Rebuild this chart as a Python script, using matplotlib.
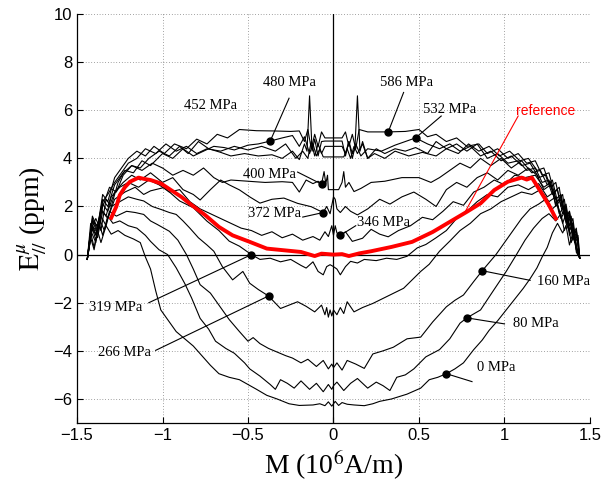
import matplotlib.pyplot as plt

plt.rcParams['mathtext.fontset'] = 'stix'

# ── Curves: (M [10^6 A/m], E [ppm]) ─────────────────────────
pts_0 = [(-1.44, -0.2), (-1.42, 0.7), (-1.40, 0.2), (-1.38, 1.0), (-1.36, 0.5), (-1.33, 1.2), (-1.30, 0.85),
         (-1.26, 1.0), (-1.22, 0.8), (-1.17, 0.65), (-1.13, 0.5), (-1.10, -0.1), (-1.07, -0.6), (-1.04, -1.5),
         (-1.01, -2.3), (-0.96, -2.8), (-0.92, -3.2), (-0.87, -3.5), (-0.82, -3.8), (-0.77, -4.2), (-0.72, -4.6),
         (-0.67, -4.95), (-0.61, -5.1), (-0.55, -5.2), (-0.50, -5.4), (-0.45, -5.6), (-0.39, -5.85), (-0.33, -6.0),
         (-0.26, -6.2), (-0.20, -6.27), (-0.12, -6.25), (-0.08, -6.2), (-0.05, -6.28), (-0.03, -6.12), (-0.01, -6.3),
         (0.0, -6.2), (0.01, -6.1), (0.03, -6.27), (0.05, -6.15), (0.08, -6.22), (0.12, -6.25), (0.18, -6.28),
         (0.23, -6.2), (0.27, -6.1), (0.34, -6.0), (0.43, -5.8), (0.51, -5.55), (0.56, -5.2), (0.61, -5.1),
         (0.66, -4.95), (0.71, -4.75), (0.76, -4.5), (0.82, -3.95), (0.87, -3.55), (0.91, -3.15), (0.96, -2.75),
         (1.01, -2.3), (1.06, -1.85), (1.11, -1.4), (1.15, -1.0), (1.19, -0.55), (1.22, -0.1), (1.25, 0.3),
         (1.28, 0.9), (1.31, 1.3), (1.34, 0.9), (1.36, 1.2), (1.38, 0.4), (1.40, 0.9), (1.42, 0.2), (1.44, -0.15)]

pts_80 = [(-1.44, -0.2), (-1.42, 0.9), (-1.40, 0.3), (-1.37, 1.3), (-1.35, 0.8), (-1.32, 1.6), (-1.29, 1.3),
          (-1.25, 1.4), (-1.20, 1.2), (-1.15, 1.1), (-1.10, 0.8), (-1.07, 0.55), (-1.02, 0.2), (-0.97, 0.0),
          (-0.92, -0.55), (-0.87, -1.2), (-0.83, -1.8), (-0.78, -2.65), (-0.73, -3.1), (-0.69, -3.6), (-0.63, -3.9),
          (-0.58, -4.1), (-0.52, -4.5), (-0.49, -4.75), (-0.43, -5.05), (-0.37, -5.4), (-0.34, -5.6), (-0.31, -5.2),
          (-0.27, -5.35), (-0.23, -5.55), (-0.19, -5.25), (-0.14, -5.6), (-0.10, -5.35), (-0.06, -5.7),
          (-0.03, -5.4), (-0.01, -5.6), (0.0, -5.45), (0.02, -5.3), (0.06, -5.65), (0.10, -5.35), (0.14, -5.15),
          (0.20, -5.55), (0.25, -5.3), (0.29, -5.45), (0.33, -5.65), (0.37, -5.1), (0.42, -5.0), (0.47, -4.75),
          (0.54, -4.25), (0.62, -3.95), (0.68, -3.5), (0.74, -2.85), (0.78, -2.63), (0.86, -2.3), (0.93, -1.55),
          (1.01, -0.7), (1.07, 0.0), (1.12, 0.6), (1.17, 1.1), (1.22, 1.5), (1.26, 1.7), (1.30, 1.4), (1.33, 1.7),
          (1.35, 1.0), (1.37, 1.4), (1.39, 0.5), (1.41, 0.9), (1.42, 0.1), (1.44, -0.15)]

pts_160 = [(-1.44, -0.18), (-1.42, 1.0), (-1.39, 0.5), (-1.37, 1.5), (-1.34, 1.0), (-1.31, 1.8), (-1.27, 1.6),
           (-1.21, 1.8), (-1.16, 1.75), (-1.11, 1.67), (-1.07, 1.4), (-1.03, 1.25), (-0.96, 0.97), (-0.91, 0.6),
           (-0.86, 0.0), (-0.82, -0.6), (-0.78, -1.25), (-0.72, -1.6), (-0.66, -2.2), (-0.61, -2.7), (-0.55, -3.2),
           (-0.50, -3.6), (-0.47, -3.45), (-0.43, -3.7), (-0.38, -3.9), (-0.33, -4.05), (-0.28, -4.2), (-0.24, -4.3),
           (-0.19, -4.5), (-0.15, -4.35), (-0.10, -4.65), (-0.06, -4.4), (-0.03, -4.75), (-0.01, -4.55), (0.0, -4.7),
           (0.02, -4.5), (0.05, -4.8), (0.08, -4.4), (0.13, -4.55), (0.18, -4.73), (0.23, -4.13), (0.29, -4.0),
           (0.35, -3.85), (0.43, -3.5), (0.51, -3.43), (0.58, -2.8), (0.66, -2.17), (0.71, -1.9), (0.76, -1.68),
           (0.82, -1.12), (0.87, -0.67), (0.95, 0.0), (1.00, 0.5), (1.05, 1.0), (1.10, 1.5), (1.15, 1.9),
           (1.20, 2.1), (1.24, 2.3), (1.28, 1.9), (1.31, 2.1), (1.34, 1.3), (1.36, 1.7), (1.38, 0.8), (1.40, 1.1),
           (1.42, 0.2), (1.44, -0.15)]

pts_266 = [(-1.44, -0.2), (-1.41, 1.1), (-1.39, 0.6), (-1.36, 1.6), (-1.33, 1.2), (-1.30, 2.0), (-1.25, 2.2),
           (-1.20, 2.4), (-1.15, 2.3), (-1.11, 2.23), (-1.06, 2.0), (-1.01, 1.88), (-0.96, 1.75), (-0.92, 1.67),
           (-0.88, 1.4), (-0.84, 1.1), (-0.79, 0.7), (-0.74, 0.4), (-0.70, 0.14), (-0.65, -0.5), (-0.59, -1.05),
           (-0.53, -0.7), (-0.49, -1.19), (-0.44, -1.45), (-0.38, -1.72), (-0.31, -2.24), (-0.26, -2.1),
           (-0.21, -1.96), (-0.16, -2.15), (-0.11, -2.38), (-0.07, -2.1), (-0.05, -2.5), (-0.04, -2.2),
           (-0.03, -2.6), (-0.02, -2.3), (-0.01, -2.55), (0.0, -2.3), (0.02, -2.5), (0.04, -2.2), (0.06, -2.45),
           (0.08, -1.96), (0.12, -2.38), (0.17, -2.2), (0.23, -2.03), (0.33, -1.68), (0.41, -1.4), (0.47, -0.98),
           (0.51, -0.7), (0.56, -0.4), (0.62, 0.14), (0.68, 0.56), (0.74, 1.0), (0.80, 1.3), (0.86, 1.7),
           (0.92, 1.9), (0.98, 2.2), (1.04, 2.4), (1.10, 2.6), (1.16, 2.5), (1.21, 2.7), (1.26, 2.2), (1.30, 2.4),
           (1.33, 1.5), (1.36, 1.9), (1.38, 1.0), (1.40, 1.3), (1.42, 0.3), (1.44, -0.15)]

pts_319 = [(-1.44, -0.2), (-1.41, 1.2), (-1.38, 0.7), (-1.35, 1.8), (-1.32, 1.5), (-1.28, 2.3), (-1.22, 2.6),
           (-1.16, 2.8), (-1.11, 2.5), (-1.07, 2.65), (-0.99, 2.79), (-0.90, 2.23), (-0.82, 1.95), (-0.74, 1.39),
           (-0.67, 1.0), (-0.61, 0.56), (-0.55, 0.35), (-0.48, 0.0), (-0.43, -0.2), (-0.37, -0.15), (-0.31, -0.3),
           (-0.25, -0.2), (-0.19, -0.45), (-0.16, -0.56), (-0.12, -0.3), (-0.09, -0.7), (-0.06, -0.84),
           (-0.04, -0.5), (-0.02, -0.42), (0.0, -0.5), (0.02, -0.6), (0.04, -0.84), (0.07, -0.5), (0.10, -0.28),
           (0.14, -0.35), (0.18, -0.2), (0.25, -0.25), (0.31, -0.15), (0.37, -0.2), (0.43, -0.07), (0.49, 0.28),
           (0.54, 0.42), (0.60, 0.7), (0.66, 1.0), (0.72, 1.5), (0.78, 1.8), (0.84, 2.2), (0.90, 2.5), (0.96, 2.4),
           (1.02, 2.8), (1.08, 2.9), (1.14, 2.7), (1.20, 2.95), (1.25, 2.4), (1.29, 2.6), (1.32, 1.7), (1.35, 2.0),
           (1.37, 1.1), (1.39, 1.4), (1.41, 0.5), (1.43, 0.7), (1.44, -0.15)]

pts_346 = [(-1.44, -0.2), (-1.42, 1.3), (-1.39, 0.8), (-1.36, 1.9), (-1.33, 1.6), (-1.30, 2.4), (-1.25, 2.8),
           (-1.20, 3.0), (-1.14, 2.8), (-1.08, 3.1), (-1.02, 2.9), (-0.96, 2.6), (-0.90, 2.7), (-0.84, 2.2),
           (-0.78, 1.9), (-0.72, 1.7), (-0.66, 1.5), (-0.60, 1.3), (-0.54, 1.1), (-0.48, 1.0), (-0.42, 0.8),
           (-0.36, 0.95), (-0.30, 0.7), (-0.24, 0.85), (-0.18, 0.6), (-0.12, 0.75), (-0.08, 0.6), (-0.05, 0.95),
           (-0.03, 0.75), (-0.01, 1.2), (0.0, 0.8), (0.01, 1.2), (0.02, 0.9), (0.04, 0.8), (0.07, 0.95),
           (0.11, 0.55), (0.17, 0.68), (0.22, 1.05), (0.27, 0.85), (0.32, 0.74), (0.38, 1.0), (0.45, 1.2),
           (0.52, 1.55), (0.58, 1.45), (0.64, 1.8), (0.70, 2.2), (0.76, 2.05), (0.82, 2.6), (0.88, 2.8),
           (0.94, 3.1), (1.00, 2.9), (1.06, 3.3), (1.12, 3.2), (1.18, 3.3), (1.23, 2.8), (1.27, 3.0), (1.30, 2.0),
           (1.33, 2.3), (1.36, 1.3), (1.38, 1.6), (1.40, 0.6), (1.42, 0.9), (1.44, -0.15)]

pts_372 = [(-1.44, -0.2), (-1.41, 1.4), (-1.38, 0.9), (-1.35, 2.1), (-1.32, 1.8), (-1.28, 2.6), (-1.23, 3.0),
           (-1.18, 3.3), (-1.13, 3.1), (-1.07, 3.4), (-1.00, 3.0), (-0.94, 3.2), (-0.88, 2.7), (-0.82, 2.5),
           (-0.78, 2.27), (-0.72, 2.7), (-0.66, 3.1), (-0.61, 2.9), (-0.55, 2.69), (-0.49, 2.4), (-0.43, 2.14),
           (-0.36, 2.3), (-0.29, 2.35), (-0.21, 2.13), (-0.13, 1.99), (-0.09, 1.85), (-0.06, 1.75), (-0.04, 2.0),
           (-0.02, 1.7), (0.0, 2.4), (0.01, 2.3), (0.02, 1.9), (0.04, 1.75), (0.07, 2.0), (0.10, 1.8), (0.14, 1.65),
           (0.20, 1.9), (0.27, 2.3), (0.33, 2.1), (0.40, 2.4), (0.47, 2.6), (0.54, 2.3), (0.60, 2.0), (0.66, 2.7),
           (0.72, 3.0), (0.78, 2.8), (0.84, 3.2), (0.90, 3.4), (0.96, 3.1), (1.02, 3.5), (1.08, 3.3), (1.14, 3.6),
           (1.19, 3.3), (1.23, 2.7), (1.27, 2.9), (1.30, 2.1), (1.33, 2.4), (1.36, 1.4), (1.38, 1.7), (1.40, 0.7),
           (1.42, 1.0), (1.44, -0.15)]

pts_400 = [(-1.44, -0.2), (-1.41, 1.5), (-1.38, 1.0), (-1.35, 2.3), (-1.32, 2.0), (-1.28, 2.9), (-1.23, 3.4),
           (-1.18, 3.7), (-1.12, 3.5), (-1.06, 3.8), (-1.00, 3.6), (-0.94, 3.3), (-0.88, 3.5), (-0.82, 3.3),
           (-0.76, 3.6), (-0.70, 3.2), (-0.65, 3.0), (-0.60, 3.1), (-0.50, 3.05), (-0.40, 3.0), (-0.30, 3.03),
           (-0.24, 3.0), (-0.20, 2.6), (-0.16, 3.1), (-0.12, 2.95), (-0.09, 3.05), (-0.07, 2.93), (-0.055, 3.45),
           (-0.045, 2.95), (-0.035, 3.3), (-0.03, 2.7), (0.0, 2.7), (0.03, 2.7), (0.05, 3.0), (0.06, 3.45),
           (0.07, 2.8), (0.09, 3.0), (0.12, 2.62), (0.16, 2.75), (0.22, 3.0), (0.30, 3.05), (0.40, 3.2),
           (0.50, 3.2), (0.57, 3.0), (0.62, 3.2), (0.68, 3.5), (0.74, 3.8), (0.80, 3.6), (0.86, 4.0), (0.92, 3.7),
           (0.98, 4.0), (1.04, 3.6), (1.10, 3.9), (1.16, 3.4), (1.21, 3.5), (1.25, 2.9), (1.28, 3.1), (1.31, 2.2),
           (1.34, 2.5), (1.36, 1.5), (1.38, 1.8), (1.40, 0.8), (1.42, 1.1), (1.44, -0.15)]

pts_452 = [(-1.44, -0.2), (-1.41, 1.2), (-1.38, 0.9), (-1.35, 2.0), (-1.31, 2.8), (-1.27, 2.6), (-1.23, 3.3),
           (-1.18, 3.7), (-1.13, 3.6), (-1.08, 4.0), (-1.02, 4.3), (-0.96, 4.1), (-0.90, 4.5), (-0.85, 4.2),
           (-0.79, 4.7), (-0.73, 4.4), (-0.66, 4.25), (-0.60, 4.1), (-0.52, 4.2), (-0.44, 4.1), (-0.36, 4.15),
           (-0.30, 4.0), (-0.24, 4.3), (-0.20, 3.95), (-0.17, 4.6), (-0.155, 4.3), (-0.14, 6.6), (-0.125, 4.3),
           (-0.11, 4.8), (-0.09, 4.1), (-0.07, 4.7), (-0.05, 4.72), (0.0, 4.72), (0.05, 4.72), (0.07, 4.1),
           (0.09, 4.7), (0.11, 4.2), (0.125, 4.4), (0.14, 6.6), (0.155, 4.3), (0.17, 4.7), (0.20, 4.0),
           (0.24, 4.2), (0.30, 4.0), (0.36, 4.3), (0.44, 4.1), (0.52, 4.25), (0.60, 4.1), (0.66, 4.4), (0.73, 4.2),
           (0.79, 4.6), (0.85, 4.3), (0.91, 4.5), (0.97, 4.1), (1.03, 4.3), (1.09, 3.9), (1.14, 4.0), (1.19, 3.5),
           (1.23, 3.6), (1.27, 2.8), (1.30, 3.0), (1.33, 2.0), (1.35, 2.3), (1.37, 1.3), (1.39, 1.6), (1.41, 0.6),
           (1.43, 0.8), (1.44, -0.15)]

pts_480 = [(-1.44, -0.2), (-1.42, 1.0), (-1.39, 1.5), (-1.36, 1.0), (-1.33, 2.3), (-1.30, 2.0), (-1.26, 3.0),
           (-1.22, 3.5), (-1.17, 3.4), (-1.12, 3.9), (-1.07, 3.7), (-1.00, 4.2), (-0.94, 4.0), (-0.88, 4.4),
           (-0.82, 4.1), (-0.76, 4.3), (-0.70, 4.5), (-0.64, 4.45), (-0.58, 4.35), (-0.50, 4.55), (-0.44, 4.6),
           (-0.37, 4.72), (-0.30, 4.85), (-0.24, 4.95), (-0.20, 4.5), (-0.17, 4.9), (-0.14, 4.2), (-0.12, 4.6),
           (-0.10, 4.1), (-0.08, 4.4), (-0.06, 4.06), (0.0, 4.06), (0.06, 4.06), (0.08, 4.4), (0.10, 4.0),
           (0.12, 4.5), (0.14, 4.2), (0.17, 4.6), (0.20, 4.0), (0.25, 4.4), (0.30, 4.2), (0.36, 4.4), (0.42, 4.3),
           (0.48, 4.45), (0.55, 4.2), (0.60, 4.7), (0.66, 4.4), (0.72, 4.6), (0.78, 4.3), (0.84, 4.6), (0.90, 4.0),
           (0.96, 4.2), (1.02, 3.8), (1.08, 3.9), (1.13, 3.5), (1.18, 3.6), (1.22, 3.0), (1.26, 3.1), (1.30, 2.3),
           (1.33, 2.5), (1.36, 1.5), (1.38, 1.8), (1.40, 0.8), (1.42, 1.0), (1.44, -0.15)]

pts_532 = [(-1.44, -0.2), (-1.41, 1.4), (-1.38, 1.2), (-1.35, 2.2), (-1.32, 2.5), (-1.28, 3.0), (-1.24, 3.4),
           (-1.20, 3.8), (-1.15, 4.0), (-1.10, 4.4), (-1.04, 4.2), (-0.98, 4.6), (-0.92, 4.3), (-0.86, 4.5),
           (-0.80, 4.2), (-0.74, 4.4), (-0.66, 4.3), (-0.58, 4.5), (-0.50, 4.35), (-0.42, 4.5), (-0.34, 4.3),
           (-0.28, 4.6), (-0.22, 4.0), (-0.18, 4.3), (-0.15, 4.0), (-0.13, 4.7), (-0.11, 4.1), (-0.09, 4.6),
           (-0.07, 4.2), (-0.05, 4.5), (0.0, 4.5), (0.05, 4.5), (0.07, 4.2), (0.09, 4.7), (0.11, 4.0), (0.13, 4.6),
           (0.16, 4.1), (0.20, 4.4), (0.28, 4.3), (0.36, 4.55), (0.42, 4.7), (0.48, 4.85), (0.55, 4.6), (0.62, 4.4),
           (0.68, 4.6), (0.74, 4.3), (0.80, 4.5), (0.86, 4.1), (0.92, 4.3), (0.98, 3.9), (1.04, 4.1), (1.10, 3.7),
           (1.15, 3.8), (1.20, 3.2), (1.24, 3.3), (1.28, 2.5), (1.31, 2.7), (1.34, 1.7), (1.36, 2.0), (1.38, 1.0),
           (1.40, 1.3), (1.42, 0.3), (1.44, -0.15)]

pts_586 = [(-1.44, -0.2), (-1.41, 1.6), (-1.38, 1.1), (-1.35, 2.5), (-1.32, 2.2), (-1.28, 3.2), (-1.24, 3.6),
           (-1.20, 4.0), (-1.15, 4.3), (-1.10, 4.1), (-1.05, 4.5), (-0.99, 4.2), (-0.93, 4.6), (-0.86, 4.4),
           (-0.80, 4.8), (-0.74, 4.6), (-0.68, 5.0), (-0.62, 4.85), (-0.55, 5.2), (-0.45, 5.15), (-0.35, 5.14),
           (-0.25, 5.12), (-0.20, 5.14), (-0.17, 4.7), (-0.15, 5.2), (-0.13, 4.4), (-0.11, 5.0), (-0.09, 4.5),
           (-0.07, 5.1), (-0.05, 4.85), (0.0, 4.85), (0.05, 4.85), (0.07, 5.1), (0.09, 4.5), (0.11, 5.0),
           (0.13, 4.4), (0.15, 5.2), (0.20, 5.1), (0.32, 5.1), (0.42, 5.12), (0.50, 5.2), (0.55, 4.9), (0.60, 5.0),
           (0.66, 4.7), (0.72, 4.85), (0.78, 4.5), (0.85, 4.6), (0.90, 4.2), (0.96, 4.4), (1.02, 4.0), (1.08, 4.2),
           (1.13, 3.8), (1.18, 3.9), (1.22, 3.3), (1.26, 3.4), (1.29, 2.6), (1.32, 2.8), (1.34, 1.9), (1.36, 2.1),
           (1.38, 1.2), (1.40, 1.5), (1.42, 0.4), (1.44, -0.15)]

pts_ref = [(-1.30, 1.53), (-1.27, 2.0), (-1.25, 2.47), (-1.22, 2.8), (-1.19, 3.03), (-1.14, 3.2), (-1.11, 3.15),
           (-1.07, 3.1), (-1.01, 2.96), (-0.95, 2.68), (-0.89, 2.4), (-0.83, 2.06), (-0.75, 1.64), (-0.67, 1.15),
           (-0.59, 0.8), (-0.49, 0.53), (-0.39, 0.25), (-0.29, 0.18), (-0.19, 0.11), (-0.11, -0.06), (-0.07, 0.04),
           (0.0, 0.0), (0.05, 0.02), (0.09, -0.06), (0.15, 0.05), (0.22, 0.14), (0.34, 0.32), (0.46, 0.53),
           (0.58, 0.94), (0.68, 1.36), (0.78, 1.78), (0.86, 2.13), (0.94, 2.68), (1.02, 3.03), (1.10, 3.2),
           (1.13, 3.12), (1.16, 3.2), (1.20, 2.75), (1.26, 2.06), (1.30, 1.5)]

curves = [pts_0, pts_80, pts_160, pts_266, pts_319, pts_346, pts_372, pts_400,
          pts_452, pts_480, pts_532, pts_586]

# labels: text, marked point on the curve (None = no leader)
labels = ['0 MPa', '80 MPa', '160 MPa', '266 MPa', '319 MPa', '346 MPa', '372 MPa', '400 MPa',
          '452 MPa', '480 MPa', '532 MPa', '586 MPa']
label_dots = [(0.66, -4.95), (0.78, -2.63), (0.87, -0.67), (-0.38, -1.72), (-0.48, 0.0), (0.04, 0.8),
              (-0.06, 1.75), (-0.07, 2.93), None, (-0.37, 4.72), (0.48, 4.85), (0.32, 5.1)]

# ── label layout: text anchor, alignment, leader end ─────────
label_text = [(0.84, -4.68, 'left'), (1.05, -2.88, 'left'), (1.19, -1.1, 'left'), (-1.07, -4.06, 'right'),
              (-1.12, -2.18, 'right'), (0.14, 1.32, 'left'), (-0.19, 1.69, 'right'), (-0.22, 3.32, 'right'),
              (-0.72, 6.18, 'center'), (-0.255, 7.16, 'center'), (0.68, 6.04, 'center'), (0.427, 7.16, 'center')]
leader_end = [(0.81, -5.28), (1.0, -2.88), (1.15, -1.07), (-1.04, -3.98), (-1.08, -2.0), (0.13, 1.2),
              (-0.18, 1.56), (-0.21, 3.43), None, (-0.26, 6.5), (0.63, 5.76), (0.41, 6.74)]

fig = plt.figure(figsize=(6.04, 4.87), dpi=100)
ax = fig.add_axes([0.1275, 0.1314, 0.8493, 0.8398])

for pts in curves:
    m, e = zip(*pts)
    ax.plot(m, e, color='black', lw=0.8, zorder=3)

m, e = zip(*pts_ref)
ax.plot(m, e, color='red', lw=2.8, zorder=4)

ax.axhline(0, color='black', lw=0.9, zorder=2)
ax.axvline(0, color='black', lw=0.9, zorder=2)

serif = 'Liberation Serif'
for txt, dot, (tx, ty, ha), end in zip(labels, label_dots, label_text, leader_end):
    ax.text(tx, ty, txt, ha=ha, va='center', fontsize=10.5, family=serif, zorder=6)
    if dot is not None:
        ax.plot([dot[0], end[0]], [dot[1], end[1]], color='black', lw=0.8, zorder=5)
        ax.plot(dot[0], dot[1], 'o', color='black', ms=5, zorder=6)

# reference label with red leader
ax.plot([0.77, 1.08], [1.78, 5.76], color='red', lw=0.8, zorder=5)
ax.text(1.07, 5.97, 'reference', color='red', fontsize=10, family='Liberation Sans', va='center', zorder=6)

ax.set_xlim(-1.5, 1.5)
ax.set_ylim(-7, 10)
xt = [-1.5, -1, -0.5, 0, 0.5, 1, 1.5]
ax.set_xticks(xt)
ax.set_xticklabels(['\u22121.5', '\u22121', '\u22120.5', '0', '0.5', '1', '1.5'])
ax.set_yticks([-6, -4, -2, 0, 2, 4, 6, 8, 10])
ax.tick_params(direction='in', length=4, width=0.8, labelsize=12, top=False, right=False)
for lbl in ax.get_xticklabels() + ax.get_yticklabels():
    lbl.set_family('Liberation Sans')

ax.grid(True, color='black', linestyle=(0, (1, 3)), lw=0.5, alpha=0.7)
ax.spines['top'].set_visible(False)
ax.spines['right'].set_visible(False)
ax.spines['left'].set_linewidth(0.9)
ax.spines['bottom'].set_linewidth(0.9)

ax.set_xlabel(r'M (10$^{6}$A/m)', fontsize=20, family=serif, labelpad=4)
ax.set_ylabel(r'$\mathrm{E}^{\mu}_{//}$ (ppm)', fontsize=20, family=serif, labelpad=2)

fig.savefig('out.png', dpi=100)
